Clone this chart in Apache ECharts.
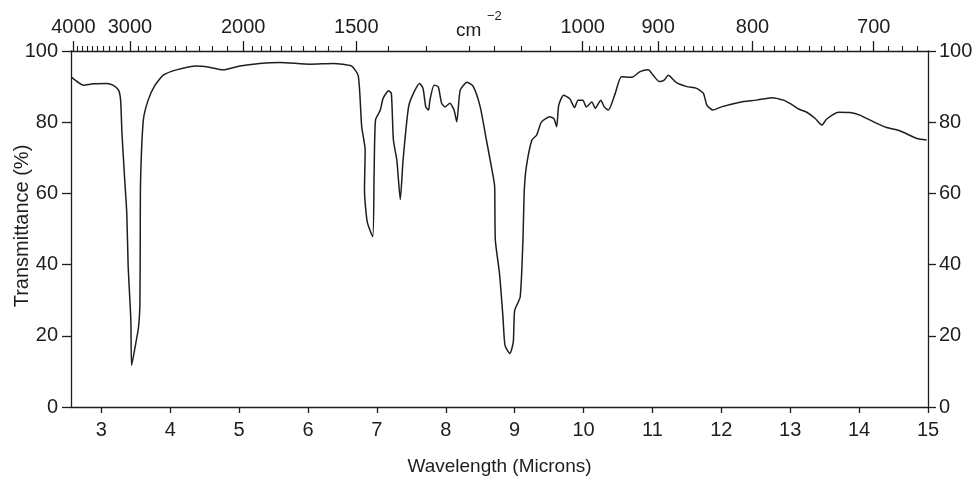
<!DOCTYPE html>
<html><head><meta charset="utf-8">
<script src="https://cdn.jsdelivr.net/npm/echarts@6/dist/echarts.min.js"></script>
<style>html,body{margin:0;padding:0;background:#fff}#c{width:979px;height:482px}</style>
</head><body><div id="c"></div>
<script>
// Wavelength (microns) and transmittance (%)
const wavelength = [2.57,2.67,2.74,2.88,3.08,3.17,3.25,3.28,3.30,3.34,3.37,3.39,3.42,3.43,3.44,3.49,3.54,3.56,3.565,3.57,3.61,3.68,3.78,3.90,4.09,4.38,4.53,4.77,5.01,5.30,5.59,6.03,6.37,6.63,6.73,6.78,6.83,6.82,6.86,6.94,6.96,6.98,7.05,7.09,7.17,7.21,7.24,7.29,7.34,7.38,7.46,7.53,7.62,7.67,7.71,7.75,7.77,7.83,7.89,7.94,7.99,8.06,8.12,8.16,8.21,8.31,8.40,8.50,8.59,8.69,8.71,8.72,8.78,8.83,8.86,8.93,8.98,9.00,9.08,9.12,9.14,9.17,9.25,9.32,9.39,9.51,9.57,9.61,9.64,9.71,9.80,9.87,9.92,9.99,10.04,10.12,10.17,10.25,10.30,10.36,10.46,10.55,10.70,10.82,10.94,11.01,11.10,11.17,11.23,11.35,11.50,11.64,11.74,11.79,11.88,12.00,12.27,12.51,12.73,12.90,13.02,13.12,13.24,13.36,13.46,13.53,13.70,13.87,14.01,14.21,14.40,14.59,14.84,14.98];
const transmittance = [92.6,91.1,90.4,90.8,90.9,90.4,89.0,86.2,76.8,63.7,54.3,39.3,28.1,23.4,11.7,16.8,22.4,29.0,46.8,63.7,80.6,86.2,90.4,93.2,94.7,95.8,95.6,94.7,95.8,96.5,96.8,96.3,96.5,95.8,93.0,78.7,72.2,60.9,52.0,47.8,65.6,80.6,83.4,86.7,88.8,88.1,75.0,69.3,58.3,69.3,84.3,88.1,90.9,89.5,84.3,83.4,86.2,90.4,90.0,85.3,84.3,85.3,83.4,80.1,89.0,91.2,90.0,84.3,75.0,64.6,61.8,46.8,37.5,25.3,17.3,15.0,18.2,27.1,30.9,46.8,60.9,67.5,75.0,76.4,80.1,81.5,81.0,78.7,84.8,87.6,86.6,84.1,86.2,86.2,84.3,85.7,83.9,86.2,84.3,83.4,88.1,92.8,92.6,94.2,94.7,93.2,91.4,91.8,93.2,91.1,90.0,89.5,88.1,84.8,83.4,84.3,85.6,86.2,86.9,86.2,85.0,83.7,82.8,81.1,79.2,80.9,82.8,82.7,82.0,80.1,78.5,77.6,75.4,75.0];

// Axis tick labels
const micronTicks = [3,4,5,6,7,8,9,10,11,12,13,14,15];
const percentTicks = [0,20,40,60,80,100];
const wavenumberMajor = [4000,3000,2000,1500,1000,900,800,700];
const wavenumberMinor = [3900,3800,3700,3600,3500,3400,3300,3200,3100,
  2900,2800,2700,2600,2500,2400,2300,2200,2100,
  1950,1900,1850,1800,1750,1700,1650,1600,1550,
  1400,1300,1200,1150,1100,1050,
  990,980,970,960,950,940,930,920,910,
  890,880,870,860,850,840,830,820,810,
  790,780,770,760,750,740,730,720,710,
  690,680,670];

const INK = '#1e1e1e';
const FONT = "'Liberation Sans', Arial, Helvetica, sans-serif";
const toMicron = w => 10000 / w;

const chart = echarts.init(document.getElementById('c'), null, {renderer: 'canvas'});
const line = wavelength.map((x, i) => [x, transmittance[i]]);

const topBase = {
  type: 'value', position: 'top', min: 2.465, max: 15.085,
  splitLine: {show: false}
};

chart.setOption({
  animation: false,
  backgroundColor: '#fff',
  grid: {left: 71, right: 51, top: 51, bottom: 75, containLabel: false, outerBoundsMode: 'none'},
  graphic: [
    {type: 'text', left: 456, top: 21, style: {text: 'cm', font: '19px ' + FONT, fill: INK}},
    {type: 'text', left: 487, top: 10, style: {text: '\u22122', font: '13px ' + FONT, fill: INK}}
  ],
  xAxis: [
    {
      type: 'value', position: 'bottom', min: 2.56, max: 15,
      name: 'Wavelength (Microns)', nameLocation: 'middle', nameGap: 50, nameMoveOverlap: false,
      nameTextStyle: {fontSize: 19, color: INK, fontFamily: FONT},
      axisLine: {show: true, onZero: false, lineStyle: {color: INK, width: 1.3}},
      axisTick: {show: true, inside: false, length: 6, lineStyle: {color: INK, width: 1.3}, customValues: micronTicks},
      axisLabel: {show: true, margin: 13, fontSize: 20, color: INK, fontFamily: FONT, customValues: micronTicks, showMinLabel: true, showMaxLabel: true},
      splitLine: {show: false}
    },
    Object.assign({}, topBase, {
      axisLine: {show: true, onZero: false, lineStyle: {color: INK, width: 1.3}},
      axisTick: {show: true, inside: false, length: 5, lineStyle: {color: INK, width: 1.1}, customValues: wavenumberMinor.map(toMicron)},
      axisLabel: {show: false}
    }),
    Object.assign({}, topBase, {
      axisLine: {show: false, onZero: false},
      axisTick: {show: true, inside: false, length: 10, lineStyle: {color: INK, width: 1.3}, customValues: wavenumberMajor.map(toMicron)},
      axisLabel: {show: true, margin: 14, fontSize: 20, color: INK, fontFamily: FONT,
        customValues: wavenumberMajor.map(toMicron), showMinLabel: true, showMaxLabel: true,
        formatter: v => String(Math.round(10000 / v))}
    })
  ],
  yAxis: [
    {
      type: 'value', position: 'left', min: 0, max: 100, interval: 20,
      name: 'Transmittance (%)', nameLocation: 'middle', nameGap: 39, nameRotate: 90, nameMoveOverlap: false,
      nameTextStyle: {fontSize: 20, color: INK, fontFamily: FONT, padding: [0, 0, 0, 6]},
      axisLine: {show: true, onZero: false, lineStyle: {color: INK, width: 1.3}},
      axisTick: {show: true, inside: false, length: 9, lineStyle: {color: INK, width: 1.3}, customValues: percentTicks},
      axisLabel: {margin: 13, fontSize: 20, color: INK, fontFamily: FONT, customValues: percentTicks},
      splitLine: {show: false}
    },
    {
      type: 'value', position: 'right', min: 0, max: 100, interval: 20,
      axisLine: {show: true, onZero: false, lineStyle: {color: INK, width: 1.3}},
      axisTick: {show: true, inside: false, length: 8, lineStyle: {color: INK, width: 1.3}, customValues: percentTicks},
      axisLabel: {margin: 11, fontSize: 20, color: INK, fontFamily: FONT, customValues: percentTicks},
      splitLine: {show: false}
    }
  ],
  series: [{
    type: 'line', xAxisIndex: 0, yAxisIndex: 0, data: line,
    showSymbol: false, symbol: 'none', smooth: 0.2,
    lineStyle: {color: INK, width: 1.5}
  }]
});
</script>
</body></html>
